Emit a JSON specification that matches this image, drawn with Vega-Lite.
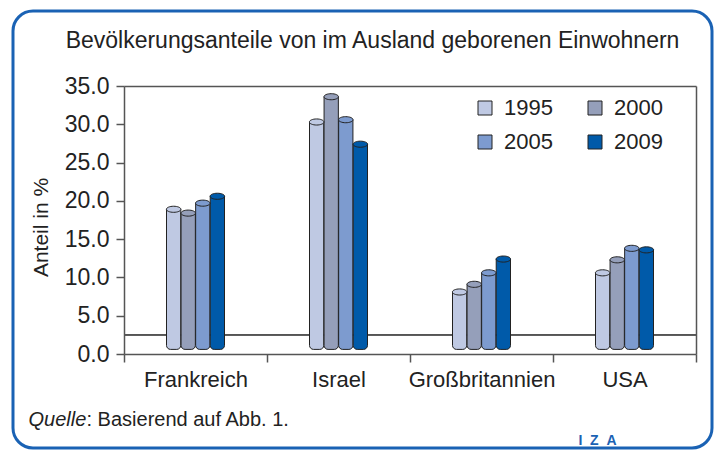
{
  "$schema": "https://vega.github.io/schema/vega-lite/v6.json",
  "autosize": {"type": "none"},
  "padding": {"left": 13, "top": 11, "right": 7, "bottom": 2},
  "width": 699,
  "height": 437,
  "background": "white",
  "title": {
    "text": "Bevölkerungsanteile von im Ausland geborenen Einwohnern",
    "fontSize": 23, "font": "Liberation Sans", "fontWeight": "normal", "color": "#222",
    "anchor": "middle", "frame": "group", "baseline": "alphabetic", "offset": -60, "dx": 10
  },
  "config": {
    "view": {"stroke": "#1a62b4", "strokeWidth": 3, "cornerRadius": 20, "fill": "white"},
    "font": "Liberation Sans"
  },
  "data": {
    "values": [
      {"land": "Frankreich", "jahr": "1995", "anteil": 18.9},
      {"land": "Frankreich", "jahr": "2000", "anteil": 18.4},
      {"land": "Frankreich", "jahr": "2005", "anteil": 19.7},
      {"land": "Frankreich", "jahr": "2009", "anteil": 20.6},
      {"land": "Israel", "jahr": "1995", "anteil": 30.3},
      {"land": "Israel", "jahr": "2000", "anteil": 33.6},
      {"land": "Israel", "jahr": "2005", "anteil": 30.6},
      {"land": "Israel", "jahr": "2009", "anteil": 27.4},
      {"land": "Großbritannien", "jahr": "1995", "anteil": 8.1},
      {"land": "Großbritannien", "jahr": "2000", "anteil": 9.1},
      {"land": "Großbritannien", "jahr": "2005", "anteil": 10.6},
      {"land": "Großbritannien", "jahr": "2009", "anteil": 12.4},
      {"land": "USA", "jahr": "1995", "anteil": 10.6},
      {"land": "USA", "jahr": "2000", "anteil": 12.3},
      {"land": "USA", "jahr": "2005", "anteil": 13.8},
      {"land": "USA", "jahr": "2009", "anteil": 13.6}
    ]
  },
  "layer": [
    {
      "layer": [
        {
          "mark": {"type": "rect", "fill": null, "fillOpacity": 0, "stroke": "#555", "strokeWidth": 1.5},
          "encoding": {
            "x": {"field": "land", "type": "nominal", "sort": ["Frankreich", "Israel", "Großbritannien", "USA"]},
            "y": {"datum": 2.5, "type": "quantitative"},
            "y2": {"datum": 2.5}
          }
        },
        {
          "mark": {"type": "bar", "stroke": "#222", "strokeWidth": 1, "cornerRadiusBottomLeft": 4, "cornerRadiusBottomRight": 4},
          "encoding": {
            "x": {
              "field": "land", "type": "nominal", "sort": ["Frankreich", "Israel", "Großbritannien", "USA"],
              "scale": {"range": [111, 683], "paddingInner": 0, "paddingOuter": 0},
              "axis": {
                "orient": "bottom", "offset": -94,
                "title": "Quelle", "titleFontStyle": "italic", "titleFontWeight": "normal", "titleFontSize": 20, "titleColor": "#222",
                "titleX": 15, "titleY": 71, "titleAlign": "left", "titleBaseline": "alphabetic",
                "labelAngle": 0, "labelAlign": "center", "labelBaseline": "top", "labelFontSize": 22, "labelColor": "#222", "labelPadding": 7,
                "tickBand": "extent", "tickSize": 8, "tickColor": "#555", "tickWidth": 1.5,
                "domainColor": "#555", "domainWidth": 1.5, "grid": false
              }
            },
            "xOffset": {"field": "jahr", "type": "nominal", "scale": {"range": [42.5, 100.5], "paddingOuter": 0, "paddingInner": 0.02}},
            "y": {
              "field": "anteil", "type": "quantitative",
              "scale": {"domain": [0, 35], "range": [343, 75], "nice": false},
              "axis": {
                "orient": "left", "offset": -111, "values": [0, 5, 10, 15, 20, 25, 30, 35], "format": ".1f",
                "title": "Anteil in %", "titleFontSize": 21, "titleFontWeight": "normal", "titleColor": "#222",
                "titleX": -77, "titleY": 216, "titleAngle": 270, "titleBaseline": "alphabetic", "titleAlign": "center",
                "labelFontSize": 23, "labelColor": "#222", "labelPadding": 7,
                "tickSize": 8, "tickColor": "#555", "tickWidth": 1.5,
                "domainColor": "#555", "domainWidth": 1.5, "grid": false
              }
            },
            "y2": {"datum": 0.6},
            "fill": {
              "field": "jahr", "type": "nominal",
              "scale": {"domain": ["1995", "2000", "2005", "2009"], "range": ["#bfc9e3", "#959fba", "#7d9bcf", "#005aa9"]},
              "legend": {
                "orient": "none", "legendX": 461, "legendY": 86, "title": null, "columns": 2, "direction": "horizontal",
                "symbolType": "square", "symbolSize": 196, "symbolStrokeColor": "#222", "symbolStrokeWidth": 1, "symbolOpacity": 1,
                "labelFontSize": 22, "labelColor": "#222", "labelOffset": 8, "columnPadding": 31, "rowPadding": 12, "labelBaseline": "middle"
              }
            }
          }
        }
      ]
    },
    {
      "mark": {"type": "point", "shape": "M-1,0A1,0.42,0,1,0,1,0A1,0.42,0,1,0,-1,0Z", "size": 210, "filled": true, "opacity": 1, "stroke": "#222", "strokeWidth": 1},
      "encoding": {
        "x": {
          "field": "land", "type": "nominal", "sort": ["Frankreich", "Israel", "Großbritannien", "USA"],
          "axis": {
            "orient": "top", "offset": -75, "labels": false, "ticks": false, "domainColor": "#555", "domainWidth": 1.5, "grid": false,
            "title": ": Basierend auf Abb. 1.", "titleFontSize": 20, "titleFontWeight": "normal", "titleColor": "#222",
            "titleX": 73, "titleY": 339, "titleAlign": "left", "titleBaseline": "alphabetic"
          }
        },
        "xOffset": {"field": "jahr", "type": "nominal"},
        "y": {
          "field": "anteil", "type": "quantitative",
          "axis": {
            "orient": "right", "offset": -16, "labels": false, "ticks": false, "domainColor": "#555", "domainWidth": 1.5, "grid": false,
            "title": "I\u00a0\u00a0Z\u00a0\u00a0A", "titleAngle": 0, "titleFontSize": 14, "titleFontWeight": "bold", "titleColor": "#1a62b4",
            "titleX": -99, "titleY": 433, "titleAlign": "center", "titleBaseline": "alphabetic"
          }
        },
        "fill": {"field": "jahr", "type": "nominal", "legend": null}
      }
    }
  ],
  "resolve": {"axis": {"x": "independent", "y": "independent"}}
}
